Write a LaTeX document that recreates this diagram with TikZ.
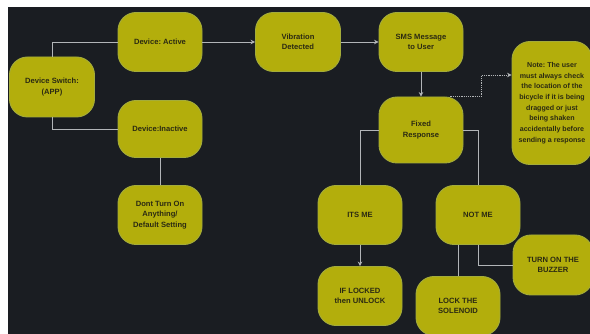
\documentclass[tikz,border=0pt]{standalone}
\usepackage{fontspec}
\setmainfont{Liberation Sans}
\usetikzlibrary{arrows.meta}
\frenchspacing

\definecolor{bgdark}{HTML}{1A1D22}
\definecolor{boxfill}{HTML}{B3AE0C}
\definecolor{boxedge}{HTML}{A4AC3A}
\definecolor{boxtext}{HTML}{2B2A12}
\definecolor{wire}{HTML}{B2B5B8}

\begin{document}
\begin{tikzpicture}[x=1pt,y=-1pt,
    box/.style={rectangle,rounded corners=18pt,fill=boxfill,draw=boxedge,line width=0.9pt,
      minimum width=84pt,minimum height=59pt,align=center,text=boxtext,inner sep=2pt,
      font=\bfseries\fontsize{7.6}{10.5}\selectfont},
    link/.style={draw=wire,line width=0.9pt},
    flow/.style={link,-{Stealth[length=4.5pt,width=4.5pt]}},
    hint/.style={flow,dash pattern=on 1.2pt off 1pt}]

  \useasboundingbox (0,0) rectangle (590,334);
  \clip (0,0) rectangle (590,334);
  \fill[white] (0,0) rectangle (590,334);
  \fill[bgdark] (8,7) rectangle (590,334);

  % left column
  \node[box,minimum width=85pt,minimum height=60pt] (sw) at (52,87) {Device Switch:\\(APP)};
  \node[box] (act) at (160,42) {Device: Active};
  \node[box,minimum height=57pt] (inact) at (160,129) {Device:Inactive};
  \node[box] (dont) at (160,215) {Dont Turn On\\Anything/\\Default Setting};

  % top row
  \node[box,minimum width=85pt] (vib) at (298,42) {Vibration\\Detected};
  \node[box] (sms) at (421,42) {SMS Message\\to User};
  \node[box,minimum height=66pt] (fix) at (421,130) {Fixed\\Response};
  \node[box,minimum width=80pt,minimum height=123pt,
    font=\bfseries\fontsize{7.1}{10.7}\selectfont] (note) at (552,103)
    {Note: The user\\must always check\\the location of the\\bicycle if it is being\\dragged or just\\being shaken\\accidentally before\\sending a response};

  % responses
  \node[box] (itsme) at (360,215) {ITS ME};
  \node[box] (notme) at (478,215) {NOT ME};
  \node[box] (iflock) at (360,296) {IF LOCKED\\then UNLOCK};
  \node[box] (lock) at (458,306) {LOCK THE\\SOLENOID};
  \node[box,minimum width=80pt,minimum height=60pt] (buzz) at (553,265) {TURN ON THE\\BUZZER};

  % connectors
  \draw[link] (sw.north) |- (act.west);
  \draw[link] (sw.south) |- (inact.west);
  \draw[flow] (act) -- (vib);
  \draw[flow] (vib) -- (sms);
  \draw[flow] (sms) -- (fix);
  \draw[hint] ([xshift=-13pt]fix.north east) -| ([xshift=-30pt,yshift=28pt]note.west)
    -- ([yshift=28pt]note.west);
  \draw[link] (inact) -- (dont);
  \draw[link] (fix.west) -| (itsme.north);
  \draw[link] (fix.east) -| (notme.north);
  \draw[flow] (itsme) -- (iflock);
  \draw[link] (lock.north |- notme.south) -- (lock.north);
  \draw[link] (notme.south) |- (buzz.west);
\end{tikzpicture}
\end{document}
